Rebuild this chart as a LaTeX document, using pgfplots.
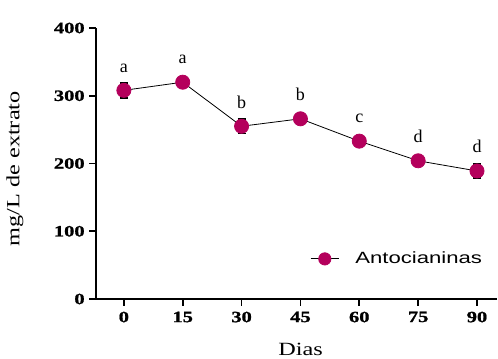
\documentclass[border=0pt]{standalone}
\usepackage{pgfplots}
\pgfplotsset{compat=1.18}
\usepackage{fontspec}
\setmainfont{Liberation Serif}
\newfontfamily\tickfont[FakeStretch=1.3,FakeBold=1.2]{Liberation Serif}
\newfontfamily\labfont[FakeStretch=1.3]{Liberation Serif}
\newfontfamily\legfont[FakeStretch=1.36]{Liberation Sans}
\definecolor{anto}{RGB}{180,0,92}
\begin{document}
\begin{tikzpicture}[x=1pt,y=1pt]
\useasboundingbox (-72,-44.25) rectangle (301.5,224.25);
\begin{axis}[
  at={(0,0)}, anchor=south west,
  scale only axis, width=300.75pt, height=203.25pt,
  xmin=-7.1, xmax=95.1, ymin=0, ymax=400,
  axis lines=left, axis line style={-, line width=1.4pt},
  xtick={0,15,...,90}, ytick={0,100,...,400},
  tick style={line width=1.2pt, black}, tick align=outside,
  major tick length=5pt,
  ticklabel style={font=\tickfont\fontsize{11.8}{13}\selectfont\bfseries},
  xticklabel style={yshift=-1pt},
  /pgf/number format/assume math mode=true,
  xlabel={Dias}, ylabel={mg/L de extrato},
  label style={font=\labfont\fontsize{14}{16}\selectfont},
  xlabel style={yshift=-9pt, xshift=3pt},
  ylabel style={yshift=16pt, xshift=-4pt},
  legend style={draw=none, fill=none, at={(0.98,0.148)}, anchor=east,
    font=\legfont\fontsize{12.2}{14}\selectfont},
  legend image code/.code={
    \draw[black, line width=0.7pt] (0cm,0cm) -- (0.75cm,0cm);
    \fill[anto] (0.375cm,0cm) circle (4.6pt);
    \path (1.1cm,0cm);
  },
  legend cell align=left,
  clip=false,
]
\addplot[black, line width=0.6pt, mark=*, mark size=5.3pt,
  mark options={fill=anto, draw=anto},
  error bars/.cd, y dir=both, y explicit,
  error bar style={line width=1.2pt, black},
  error mark options={rotate=90, mark size=3pt, line width=1.2pt, black},
]
coordinates {
 (0,308) +- (0,11)
 (15,320) +- (0,4)
 (30,255) +- (0,11)
 (45,266) +- (0,5)
 (60,233) +- (0,4)
 (75,204) +- (0,5)
 (90,189) +- (0,10)
};
\addlegendentry{Antocianinas}
\addplot[only marks, mark=none, nodes near coords, point meta=explicit symbolic,
  nodes near coords style={font=\fontsize{13.5}{15}\selectfont, anchor=south, yshift=10pt}]
 table[meta=l] {
x y l
0 308 a
15 320 a
30 255 b
45 266 b
60 233 c
75 204 d
90 189 d
};
\end{axis}
\end{tikzpicture}
\end{document}
